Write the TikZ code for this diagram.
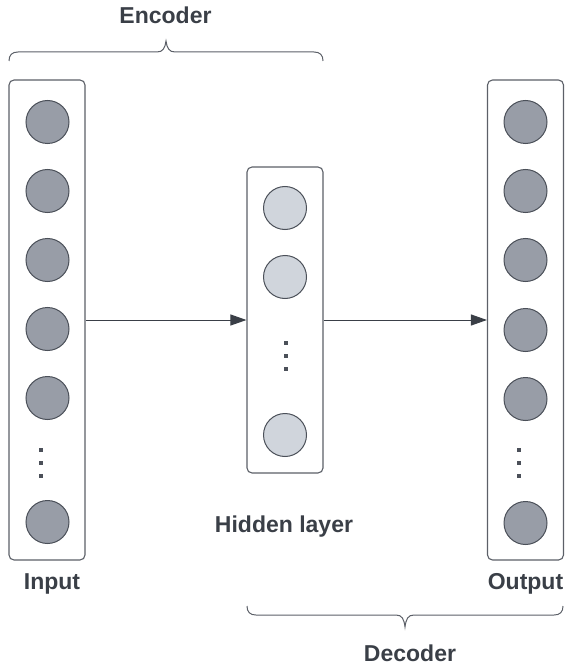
\documentclass[tikz,border=0pt]{standalone}
\usepackage{fontspec}
\setmainfont{Liberation Sans}
\usetikzlibrary{arrows.meta}
\definecolor{txt}{HTML}{3A3F47}
\definecolor{boxline}{HTML}{5C6068}
\definecolor{unitfill}{HTML}{989DA7}
\definecolor{unitline}{HTML}{4B5059}
\definecolor{hidfill}{HTML}{D0D5DC}
\begin{document}
\begin{tikzpicture}[x=1pt,y=-1pt,
  layerbox/.style={draw=boxline,line width=1.1pt,rounded corners=5pt,fill=white,
    minimum width=76pt,inner sep=0pt},
  unit/.style={circle,draw=unitline,line width=1pt,fill=unitfill,minimum size=43pt,inner sep=0pt},
  hunit/.style={unit,fill=hidfill},
  dotmark/.style={rectangle,fill=unitline,minimum size=4pt,inner sep=0pt},
  label/.style={anchor=base,inner sep=0pt,text=txt,font=\bfseries\fontsize{23}{27}\selectfont},
  link/.style={draw=txt,line width=1pt,-{Triangle[length=16pt,width=11pt]}},
  brace/.style={draw=boxline,line width=1pt}]
\useasboundingbox (0,0) rectangle (567,668);

% layer frames
\node[layerbox,minimum height=480pt] (inbox) at (47,320) {};
\node[layerbox,minimum height=306pt] (hidbox) at (285,320) {};
\node[layerbox,minimum height=480pt] (outbox) at (525.5,320) {};

% input units
\foreach \y [count=\i] in {122,191,260,329,398,522}
  \node[unit] (in\i) at (47.5,\y) {};
\foreach \y [count=\i] in {450,463,476}
  \node[dotmark] (indot\i) at (41,\y) {};

% hidden units
\foreach \y [count=\i] in {208,277,435}
  \node[hunit] (h\i) at (285,\y) {};
\foreach \y [count=\i] in {343,356,369}
  \node[dotmark] (hdot\i) at (286,\y) {};

% output units
\foreach \y [count=\i] in {122,191,260,330,399,523}
  \node[unit] (out\i) at (525.5,\y) {};
\foreach \y [count=\i] in {450,463,476}
  \node[dotmark] (outdot\i) at (519,\y) {};

% connections between layers
\draw[link] (inbox) -- (hidbox);
\draw[link] (hidbox) -- (outbox);

% braces
\draw[brace] (9,61) .. controls (9,55) and (12,52) .. (18,52) -- (157,52)
  .. controls (163,52) and (165,48) .. (166,41)
  .. controls (167,48) and (169,52) .. (175,52) -- (314,52)
  .. controls (320,52) and (323,55) .. (323,61);
\draw[brace] (247,606) .. controls (247,612) and (250,615) .. (256,615) -- (396,615)
  .. controls (402,615) and (404,619) .. (405,627)
  .. controls (406,619) and (408,615) .. (414,615) -- (554,615)
  .. controls (560,615) and (563,612) .. (563,606);

% labels
\node[label] (enc) at (165.5,24) {Encoder};
\node[label] (hidlab) at (284,532) {Hidden layer};
\node[label] (inlab) at (52,589) {Input};
\node[label] (outlab) at (525.5,589) {Output};
\node[label] (dec) at (410,661) {Decoder};
\end{tikzpicture}
\end{document}
